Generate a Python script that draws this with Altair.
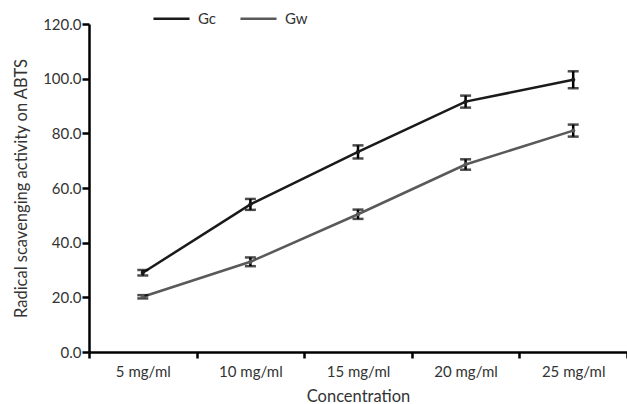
import altair as alt
import pandas as pd

categories = ["5 mg/ml", "10 mg/ml", "15 mg/ml", "20 mg/ml", "25 mg/ml"]
gc_values = [29.0, 54.0, 73.2, 91.6, 99.6]
gc_errors = [1.0, 2.0, 2.4, 2.2, 3.1]
gw_values = [20.2, 33.0, 50.4, 68.6, 81.0]
gw_errors = [0.6, 1.6, 1.7, 1.9, 2.2]
series = ["Gc", "Gw"]
colors = ["#1a1a1a", "#595959"]

rows = []
for name, vals, errs in [("Gc", gc_values, gc_errors), ("Gw", gw_values, gw_errors)]:
    for c, v, e in zip(categories, vals, errs):
        rows.append({"conc": c, "series": name, "value": v, "lo": v - e, "hi": v + e})
df = pd.DataFrame(rows)

FONT = "Lato"

x_enc = alt.X(
    "conc:N",
    sort=categories,
    bandPosition=0.5,
    scale=alt.Scale(domain=categories, paddingInner=0, paddingOuter=0),
    axis=alt.Axis(
        title="Concentration",
        labelAngle=0,
        tickBand="extent",
        tickSize=6,
        tickWidth=2.5,
        domainWidth=2.5,
        domainColor="black",
        tickColor="black",
        labelFontSize=15,
        titleFontSize=16.5,
        labelPadding=6,
        titlePadding=9,
        labelColor="#333333",
        titleColor="#333333",
        labelFont=FONT,
        titleFont=FONT,
        titleFontWeight="normal",
    ),
)

y_scale = alt.Scale(domain=[0, 120], nice=False, zero=True)
y_axis = alt.Axis(
    title="Radical scavenging activity on ABTS",
    values=[0, 20, 40, 60, 80, 100, 120],
    format=".1f",
    tickSize=7,
    tickWidth=2.5,
    domainWidth=2.5,
    domainColor="black",
    tickColor="black",
    labelFontSize=15,
    titleFontSize=16.5,
    labelPadding=1,
    titlePadding=13,
    labelColor="#333333",
    titleColor="#333333",
    labelFont=FONT,
    titleFont=FONT,
    titleFontWeight="normal",
    grid=False,
)

color_enc = alt.Color(
    "series:N",
    scale=alt.Scale(domain=series, range=colors),
    legend=alt.Legend(
        title=None,
        orient="none",
        direction="horizontal",
        legendX=63,
        legendY=-25,
        symbolType="stroke",
        symbolSize=1300,
        symbolStrokeWidth=2.5,
        labelFontSize=15,
        labelFont=FONT,
        labelColor="#333333",
        columnPadding=18,
        labelOffset=7,
    ),
)

base = alt.Chart(df)

lines = base.mark_line(strokeWidth=2.5).encode(
    x=x_enc,
    y=alt.Y("value:Q", scale=y_scale, axis=y_axis),
    color=color_enc,
)

points = base.mark_point(filled=True, size=18, opacity=1).encode(
    x=x_enc,
    y=alt.Y("value:Q", scale=y_scale),
    color=alt.Color("series:N", scale=alt.Scale(domain=series, range=colors), legend=None),
)

bars = base.mark_rule(strokeWidth=2.5, color="black").encode(
    x=x_enc,
    y=alt.Y("lo:Q", scale=y_scale),
    y2="hi:Q",
)

caps_hi = base.mark_tick(color="black", thickness=2.5, size=11, orient="horizontal").encode(
    x=x_enc,
    y=alt.Y("hi:Q", scale=y_scale),
)
caps_lo = base.mark_tick(color="black", thickness=2.5, size=11, orient="horizontal").encode(
    x=x_enc,
    y=alt.Y("lo:Q", scale=y_scale),
)

chart = (
    alt.layer(lines, bars, caps_hi, caps_lo, points)
    .properties(
        width=538,
        height=328,
        autosize=alt.AutoSizeParams(type="none"),
        padding={"left": 89, "top": 24, "right": 0, "bottom": 52},
        background="white",
    )
    .configure_view(stroke=None)
)

chart.save("out.html", embed_options={"renderer": "svg", "actions": False})
